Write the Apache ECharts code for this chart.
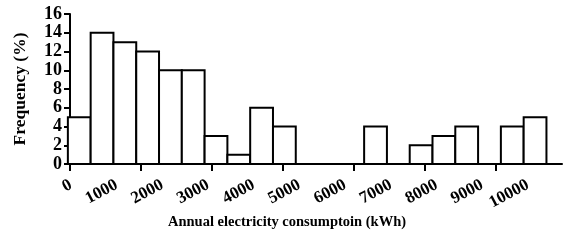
<!DOCTYPE html>
<html>
<head>
<meta charset="utf-8">
<script src="https://cdn.jsdelivr.net/npm/echarts@6/dist/echarts.min.js"></script>
<style>
  html, body { margin: 0; padding: 0; background: #fff; }
  #chart { width: 566px; height: 241px; }
</style>
</head>
<body>
<div id="chart"></div>
<script>
// histogram frequencies (%), one per bin, left to right
const freq = [5, 14, 13, 12, 10, 10, 3, 1, 6, 4, 0, 0, 0, 4, 0, 2, 3, 4, 0, 4, 5];
// bins in axis-tick units
const binStart = -0.03;
const binWidth = 0.321;
const tickValues = [0, 1, 2, 3, 4, 5, 6];
const kwhLabels = [0, 1000, 2000, 3000, 4000, 5000, 6000, 7000, 8000, 9000, 10000];

const bins = [];
freq.forEach((f, i) => {
  if (f > 0) bins.push([binStart + i * binWidth, binStart + (i + 1) * binWidth, f]);
});

const font = 'Liberation Serif';
const chart = echarts.init(document.getElementById('chart'));
chart.setOption({
  animation: false,
  title: {
    text: 'Annual electricity consumptoin (kWh)',
    left: 168,
    top: 215,
    padding: 0,
    textStyle: { fontFamily: font, fontSize: 14.5, fontWeight: 'bold', color: '#000' }
  },
  grid: [
    { left: 70, right: 4, top: 14, bottom: 77 },
    { left: 71, width: 457, top: 14, bottom: 77 }
  ],
  xAxis: [
    {
      type: 'value', gridIndex: 0, min: 0, max: 6.93,
      axisLine: { lineStyle: { color: '#000', width: 2 } },
      axisTick: { length: 7, lineStyle: { width: 2 }, customValues: tickValues },
      axisLabel: { show: false },
      splitLine: { show: false }
    },
    {
      type: 'value', gridIndex: 1, min: 0, max: 10000,
      axisLine: { show: false },
      axisTick: { show: false },
      splitLine: { show: false },
      axisLabel: {
        customValues: kwhLabels, rotate: 28, margin: 20,
        formatter: v => String(v),
        fontFamily: font, fontSize: 17, fontWeight: 'bold', color: '#000'
      }
    }
  ],
  yAxis: [
    {
      type: 'value', gridIndex: 0, min: 0, max: 16, interval: 2,
      name: 'Frequency (%)', nameLocation: 'middle', nameGap: 41,
      nameTextStyle: { fontFamily: font, fontSize: 17.5, fontWeight: 'bold', color: '#000' },
      axisLine: { show: true, lineStyle: { color: '#000', width: 2 } },
      axisTick: { show: true, length: 6, lineStyle: { width: 2 } },
      axisLabel: { margin: 8, fontFamily: font, fontSize: 18, fontWeight: 'bold', color: '#000' },
      splitLine: { show: false }
    },
    { type: 'value', gridIndex: 1, min: 0, max: 16, show: false }
  ],
  series: [{
    type: 'custom',
    xAxisIndex: 0,
    yAxisIndex: 0,
    data: bins,
    renderItem: function (params, api) {
      const p0 = api.coord([api.value(0), 0]);
      const p1 = api.coord([api.value(1), api.value(2)]);
      return {
        type: 'rect',
        shape: { x: p0[0], y: p1[1], width: p1[0] - p0[0], height: p0[1] - p1[1] },
        style: { fill: '#fff', stroke: '#000', lineWidth: 2 }
      };
    },
    clip: false,
    z: 1
  }]
});
</script>
</body>
</html>
